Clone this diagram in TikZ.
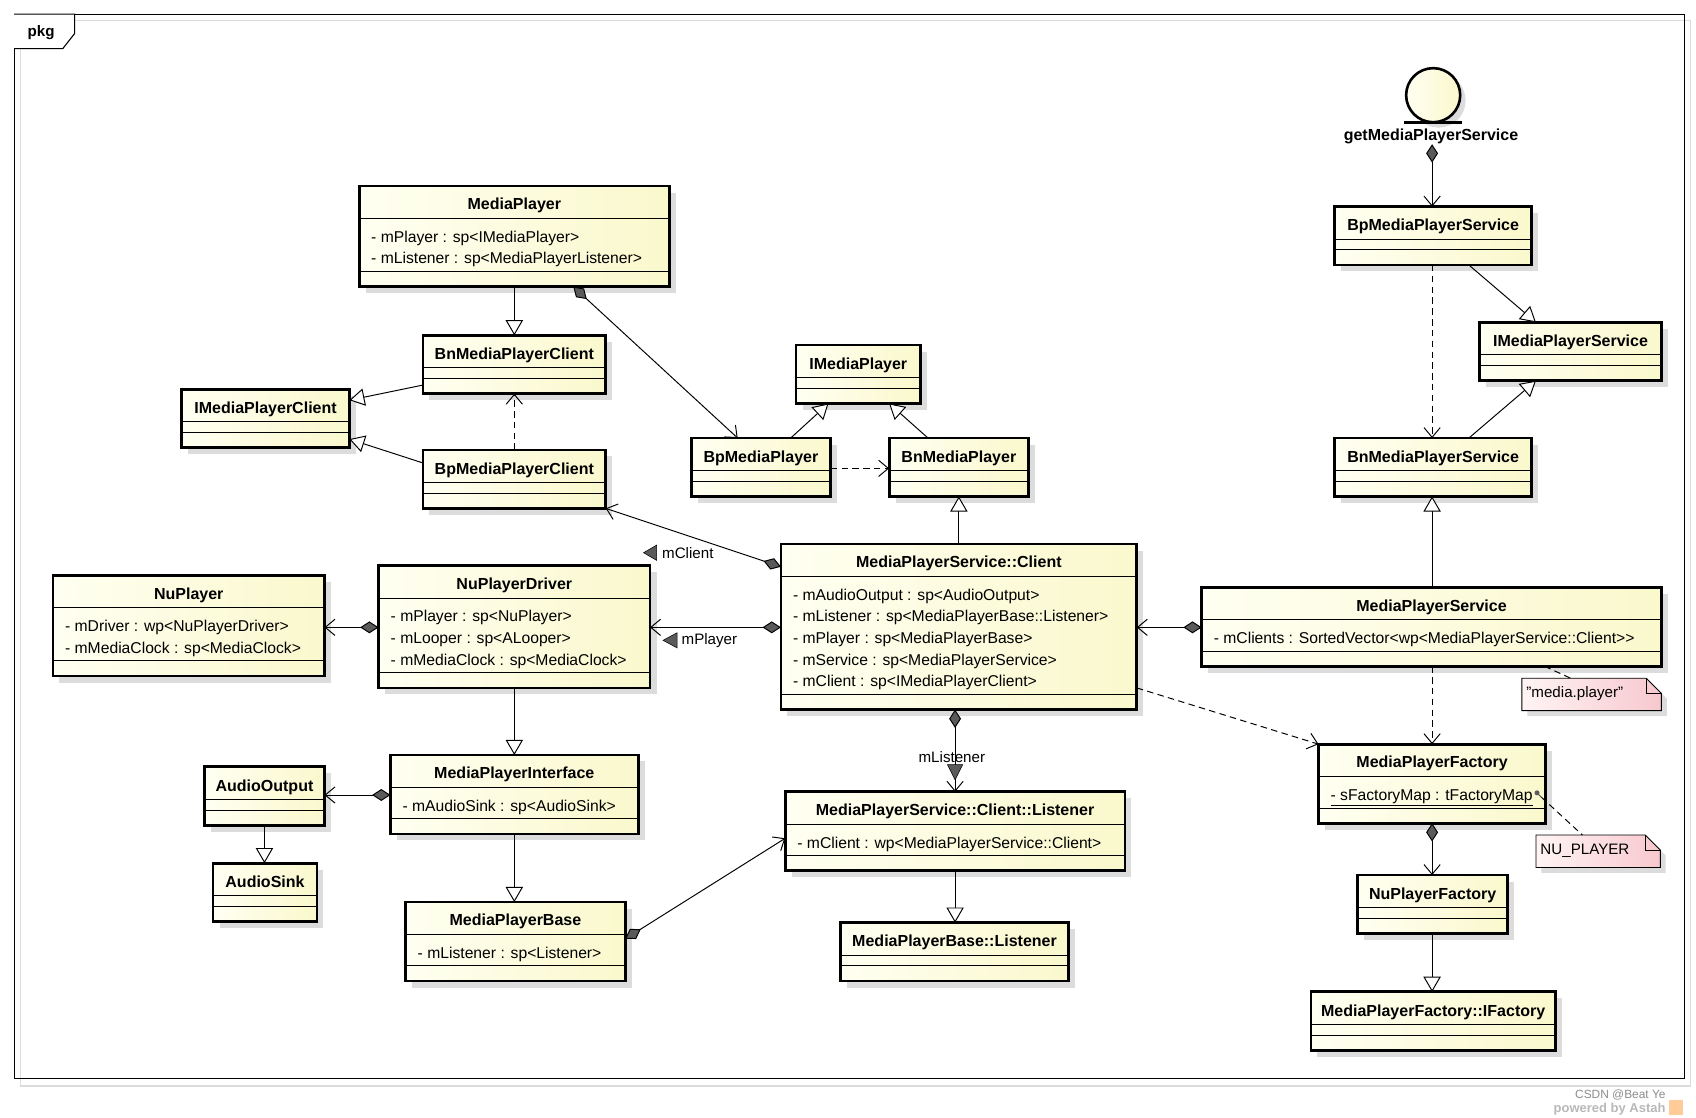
\documentclass[tikz,border=0pt]{standalone}
\usepackage{fontspec}
\setmainfont{Liberation Sans}
\usetikzlibrary{arrows.meta,shadows}
\definecolor{clsA}{RGB}{255,255,242}
\definecolor{clsB}{RGB}{250,248,204}
\definecolor{noteA}{RGB}{255,244,244}
\definecolor{noteB}{RGB}{247,200,206}
\definecolor{diam}{RGB}{90,90,90}
\definecolor{shd}{RGB}{220,220,220}
\tikzset{
  cls/.style={draw, line width=2.6pt, rectangle, anchor=north west, inner sep=0, outer sep=0,
    left color=clsA, right color=clsB,
    drop shadow={shadow xshift=6pt, shadow yshift=-6pt, fill=shd, opacity=1}},
  ttl/.style={font=\fontsize{14.8}{17}\selectfont\bfseries, inner sep=0, anchor=base},
  attr/.style={font=\fontsize{14.5}{17}\selectfont, inner sep=0, anchor=base west},
  lbl/.style={font=\fontsize{14}{17}\selectfont, inner sep=0},
  sepl/.style={line width=0.9pt},
  conn/.style={line width=0.9pt, black},
  gen/.style={conn, -{Triangle[open, length=14pt, width=16pt, fill=white]}},
  dep/.style={conn, dash pattern=on 6pt off 4pt, -{Straight Barb[length=9pt, width=15pt]}},
  comp/.style={conn, {Diamond[length=17pt, width=11pt, fill=diam]}-{Straight Barb[length=9pt, width=15pt]}},
  notelink/.style={line width=0.9pt, dash pattern=on 6pt off 4pt},
  tri/.style={fill=diam, draw=black, line width=0.5pt},
}
\newcommand\emptycls[5]{%
  \node[cls, minimum width={#4-#2}, minimum height=54] (#1) at (#2,#3) {};
  \node[ttl] (#1-t) at ({(#2+#4)/2},#3+22.5) {#5};
  \draw[sepl] (#2,#3+30) -- (#4,#3+30);
  \draw[sepl] (#2,#3+40) -- (#4,#3+40);
}
\newcommand\attrcls[7]{%
  \pgfmathsetmacro\clsh{53+20*#5}
  \node[cls, minimum width={#4-#2}, minimum height=\clsh] (#1) at (#2,#3) {};
  \node[ttl] (#1-t) at ({(#2+#4)/2},#3+22) {#6};
  \draw[sepl] (#2,#3+30) -- (#4,#3+30);
  \draw[sepl] (#2,#3+\clsh-14) -- (#4,#3+\clsh-14);
  \foreach \attrline [count=\attrno] in {#7} {\node[attr] (#1-a\attrno) at (#2+11,#3+52+20*\attrno-20) {\attrline};}
}
\begin{document}
\begin{tikzpicture}[x=1pt,y=-1pt]
\useasboundingbox (0,0) rectangle (1568,1033);
% frame
\draw[shd, line width=1pt] (19,19) rectangle (1563,1004);
\draw[line width=1pt] (13,13) rectangle (1557,997);
\draw[line width=1pt, fill=white] (13,13) -- (69,13) -- (69,31) -- (58,45) -- (13,45);
\node[font=\fontsize{14}{17}\selectfont\bfseries, inner sep=0] (pkg) at (38,30) {pkg};

% classes
\attrcls{mp}{332}{172}{619}{2}{MediaPlayer}{- mPlayer : sp<IMediaPlayer>, - mListener : sp<MediaPlayerListener>}
\emptycls{bnc}{391}{310}{560}{BnMediaPlayerClient}
\emptycls{imc}{168}{360}{323}{IMediaPlayerClient}
\emptycls{bpc}{391}{416}{560}{BpMediaPlayerClient}
\emptycls{imp}{736}{319}{851}{IMediaPlayer}
\emptycls{bpmp}{639}{405}{768}{BpMediaPlayer}
\emptycls{bnmp}{822}{405}{951}{BnMediaPlayer}
\attrcls{cl}{722}{503}{1051}{5}{MediaPlayerService::Client}{- mAudioOutput : sp<AudioOutput>, - mListener : sp<MediaPlayerBase::Listener>, - mPlayer : sp<MediaPlayerBase>, - mService : sp<MediaPlayerService>, - mClient : sp<IMediaPlayerClient>}
\attrcls{npd}{350}{523}{601}{3}{NuPlayerDriver}{- mPlayer : sp<NuPlayer>, - mLooper : sp<ALooper>, - mMediaClock : sp<MediaClock>}
\attrcls{np}{49}{532}{300}{2}{NuPlayer}{- mDriver : wp<NuPlayerDriver>, - mMediaClock : sp<MediaClock>}
\attrcls{mpi}{361}{698}{590}{1}{MediaPlayerInterface}{- mAudioSink : sp<AudioSink>}
\emptycls{ao}{189}{709}{300}{AudioOutput}
\emptycls{as}{197}{798}{293}{AudioSink}
\attrcls{mpb}{375}{834}{578}{1}{MediaPlayerBase}{- mListener : sp<Listener>}
\attrcls{lis}{726}{732}{1040}{1}{MediaPlayerService::Client::Listener}{- mClient : wp<MediaPlayerService::Client>}
\emptycls{mpbl}{777}{853}{988}{MediaPlayerBase::Listener}
\emptycls{bps}{1234}{191}{1416}{BpMediaPlayerService}
\emptycls{ips}{1368}{298}{1536}{IMediaPlayerService}
\emptycls{bnps}{1234}{405}{1416}{BnMediaPlayerService}
\attrcls{mps}{1111}{543}{1536}{1}{MediaPlayerService}{- mClients : SortedVector<wp<MediaPlayerService::Client>\kern0pt>}
\attrcls{mpf}{1219}{688}{1429}{1}{MediaPlayerFactory}{{\underline{- sFactoryMap : tFactoryMap}}}
\emptycls{npf}{1255}{809}{1394}{NuPlayerFactory}
\emptycls{ifac}{1212}{917}{1438}{MediaPlayerFactory::IFactory}

% entity symbol
\node[circle, draw, line width=2.4pt, minimum size=50, inner sep=0, left color=clsA, right color=clsB,
  drop shadow={shadow xshift=5pt, shadow yshift=-5pt, fill=shd, opacity=1}] (gmps) at (1325,88) {};
\draw[line width=2.6pt] (1298,113) -- (1352,113);
\node[ttl] (gmps-l) at (1323,130) {getMediaPlayerService};

% key icon
\fill[diam] (1421,733) circle (2.3);
\draw[line width=1pt, diam] (1421,733) -- (1425,737);

% notes
\fill[shd] (1412,632) -- (1527,632) -- (1541,646) -- (1541,662) -- (1412,662) -- cycle;
\path[left color=noteA, right color=noteB, draw=black, line width=0.8pt] (1407,627) -- (1522,627) -- (1536,641) -- (1536,657) -- (1407,657) -- cycle;
\draw[line width=0.8pt] (1522,627) -- (1522,641) -- (1536,641);
\node[lbl, anchor=west] (n1) at (1411,641) {"media.player"};
\coordinate (n1top) at (1452,627);
\fill[shd] (1425,777) -- (1526,777) -- (1540,791) -- (1540,807) -- (1425,807) -- cycle;
\path[left color=noteA, right color=noteB, draw=black, line width=0.8pt] (1420,772) -- (1521,772) -- (1535,786) -- (1535,802) -- (1420,802) -- cycle;
\draw[line width=0.8pt] (1521,772) -- (1521,786) -- (1535,786);
\node[lbl, anchor=west] (n2) at (1424,787) {NU\_PLAYER};
\coordinate (n2top) at (1463,772);
\coordinate (keyp) at (1425,737);

% connectors
\draw[gen] (mp.south) -- (bnc.north);
\draw[comp] (530,0 |- mp.south) -- (682,0 |- bpmp.north);
\draw[gen] (bnc.west |- 0,356) -- (imc.east |- 0,370);
\draw[gen] (bpc.west |- 0,428) -- (imc.east |- 0,406);
\draw[dep] (bpc.north) -- (bnc.south);
\draw[gen] (731,0 |- bpmp.north) -- (766,0 |- imp.south);
\draw[gen] (858,0 |- bnmp.north) -- (822,0 |- imp.south);
\draw[dep] (bpmp.east |- 0,433) -- (bnmp.west |- 0,433);
\draw[gen] (cl.north) -- (bnmp.south);
\draw[comp] (cl.west |- 0,524) -- (bpc.south east);
\draw[comp] (cl.west |- 0,580) -- (npd.east |- 0,580);
\draw[comp] (npd.west |- 0,580) -- (np.east |- 0,580);
\draw[gen] (npd.south) -- (mpi.north);
\draw[comp] (mpi.west |- 0,735) -- (ao.east |- 0,735);
\draw[gen] (ao.south) -- (ao.south |- as.north);
\draw[gen] (mpi.south) -- (mpi.south |- mpb.north);
\draw[comp] (mpb.east |- 0,868) -- (lis.west |- 0,775);
\draw[comp] (883,0 |- cl.south) -- (883,0 |- lis.north);
\draw[gen] (lis.south) -- (lis.south |- mpbl.north);
\draw[comp] (mps.west |- 0,580) -- (cl.east |- 0,580);
\draw[gen] (1324,0 |- mps.north) -- (1324,0 |- bnps.south);
\draw[dep] (cl.east |- 0,636) -- (mpf.north west);
\draw[dep] (1324,0 |- mps.south) -- (1324,0 |- mpf.north);
\draw[comp] (1324,0 |- gmps-l.south) -- (1324,0 |- bps.north);
\draw[gen] (1358,0 |- bps.south) -- (1420,0 |- ips.north);
\draw[gen] (1358,0 |- bnps.north) -- (1420,0 |- ips.south);
\draw[dep] (1324,0 |- bps.south) -- (1324,0 |- bnps.north);
\draw[comp] (1324,0 |- mpf.south) -- (1324,0 |- npf.north);
\draw[gen] (1324,0 |- npf.south) -- (1324,0 |- ifac.north);
\draw[notelink] (1428,0 |- mps.south) -- (n1top);
\draw[notelink] (keyp) -- (n2top);

% role labels
\fill[tri] (595,511) -- (607,504) -- (607,518) -- cycle;
\node[lbl, anchor=west] (lmc) at (612,511) {mClient};
\fill[tri] (613,592) -- (626,585) -- (626,599) -- cycle;
\node[lbl, anchor=west] (lmp) at (630,592) {mPlayer};
\node[lbl] (lml) at (880,700) {mListener};
\fill[tri] (876,707) -- (890,707) -- (883,721) -- cycle;

% watermark
\node[font=\fontsize{11}{13}\selectfont, text=black!45, anchor=east, inner sep=0] (wm2) at (1540,1012) {CSDN @Beat Ye};
\node[font=\fontsize{12}{14}\selectfont\bfseries, text=black!28, anchor=east, inner sep=0] (wm1) at (1540,1025) {powered by Astah};
\fill[orange!40] (1543,1017) rectangle (1556,1031);
\end{tikzpicture}
\end{document}
